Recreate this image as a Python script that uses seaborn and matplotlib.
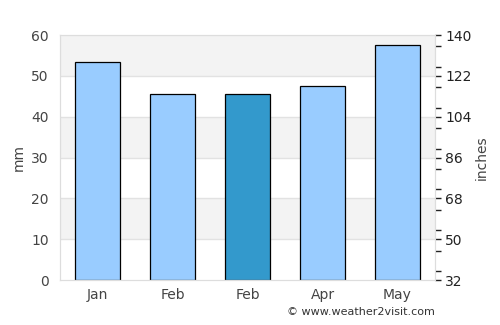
import numpy as np
import matplotlib
matplotlib.use("Agg")
import matplotlib.pyplot as plt
from matplotlib.ticker import MultipleLocator
import seaborn as sns
import pandas as pd

months = ["Jan", "Feb", "Feb", "Apr", "May"]
rain_mm = [53.3, 45.6, 45.6, 47.5, 57.5]
highlight = [False, False, True, False, False]
right_ticks = [32, 50, 68, 86, 104, 122, 140]

sns.set_style("white")
plt.rcParams['font.family'] = ['DejaVu Sans']

df = pd.DataFrame({"pos": range(len(months)), "mm": rain_mm,
                   "hl": ["dark" if h else "light" for h in highlight]})

fig = plt.figure(figsize=(5, 3.25), dpi=100)
ax = fig.add_axes([0.12, 0.138, 0.75, 0.754])

# alternating background bands
for lo in range(0, 60, 10):
    if (lo // 10) % 2 == 1:
        ax.axhspan(lo, lo + 10, color="#f3f3f3", zorder=0, lw=0)
for y in range(10, 60, 10):
    ax.axhline(y, color="#e2e2e2", lw=1, zorder=0.5)

sns.barplot(data=df, x="pos", y="mm", hue="hl", palette={"light": "#99ccff", "dark": "#3399cc"},
            saturation=1, width=0.6, edgecolor="black", linewidth=0.9, legend=False, ax=ax, zorder=2)

ax.set_xlim(-0.5, 4.5)
ax.set_ylim(0, 60)
ax.set_yticks(range(0, 61, 10))
ax.set_xticks(range(len(months)))
ax.set_xticklabels(months)
ax.set_xlabel("")
ax.set_ylabel("mm", color="#444444", fontsize=10)
ax.tick_params(axis="both", length=0, labelsize=10, colors="#444444", pad=8)
ax.tick_params(axis="x", pad=6)
for s in ax.spines.values():
    s.set_color("#dddddd")

ax2 = ax.twinx()
ax2.set_ylim(32, 140)
ax2.set_yticks(right_ticks)
ax2.yaxis.set_minor_locator(MultipleLocator(9))
ax2.tick_params(axis="y", which="major", length=4, width=1, colors="#222222", labelsize=10)
ax2.tick_params(axis="y", which="minor", length=4, width=1, colors="#222222")
ax2.set_ylabel("inches", color="#444444", fontsize=10, labelpad=2)
for s in ax2.spines.values():
    s.set_color("#dddddd")

fig.text(0.87, 0.025, "© www.weather2visit.com", ha="right", va="bottom", fontsize=8, color="#333333")

plt.savefig("out.png", dpi=100)
plt.close()
